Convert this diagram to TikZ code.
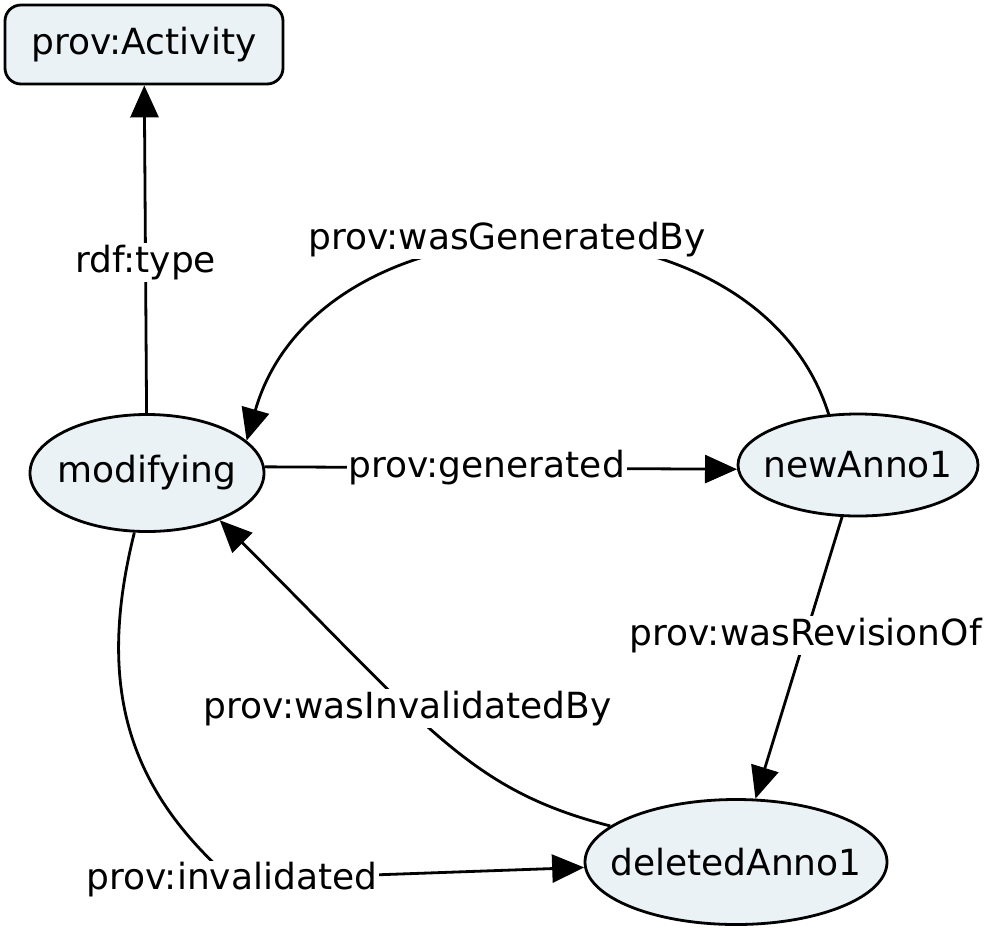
\documentclass[tikz,border=0pt]{standalone}
\usepackage{fontspec}
\setmainfont{DejaVu Sans}
\usepackage{xcolor}
\usepackage{tikz}
\usetikzlibrary{arrows.meta,shapes.geometric}
\definecolor{provfill}{HTML}{EBF2F5}
\tikzset{
  classbox/.style={draw=black, line width=1.4pt, rounded corners=8pt, fill=provfill, minimum width=139pt, minimum height=39.5pt, inner sep=0pt, font=\fontsize{18}{21}\selectfont},
  res/.style={ellipse, draw=black, line width=1.4pt, fill=provfill, inner sep=0pt, font=\fontsize{18}{21}\selectfont},
  lbl/.style={fill=white, inner sep=1pt, font=\fontsize{18}{21}\selectfont},
  line/.style={-{Triangle[length=16pt, width=14pt]}, line width=1.4pt, draw=black}
}

\begin{document}
\begin{tikzpicture}[x=0.5pt, y=-0.5pt]
    \useasboundingbox (0,0) rectangle (991,928);
    \node[classbox] (activity) at (144,44.5) {prov:Activity};
    \node[res, minimum width=117pt, minimum height=58.5pt] (modifying) at (147,473) {\makebox[0pt]{modifying}};
    \node[res, minimum width=120pt, minimum height=51pt] (newanno) at (858,465) {\makebox[0pt]{newAnno1}};
    \node[res, minimum width=151pt, minimum height=62.5pt] (deletedanno) at (736,862) {\makebox[0pt]{deletedAnno1}};
    \coordinate (invpt) at (232,880);

    \draw[line] (modifying) -- node[lbl, pos=0.46] {rdf:type} (activity);
    \draw[line] (modifying.3) -- node[lbl, pos=0.47] {prov:generated} (newanno.182);
    \draw[line] (newanno) -- node[lbl, pos=0.42] {prov:wasRevisionOf} (deletedanno);
    \draw[line] (newanno.120) .. controls (755,180) and (320,185) .. node[lbl, pos=0.54, yshift=3pt] {prov:wasGeneratedBy} (modifying.18);
    \draw[line] (deletedanno.164) .. controls (470,790) and (430,730) .. node[lbl, pos=0.6] {prov:wasInvalidatedBy} (modifying.327);
    \draw[line] (modifying.258) .. controls (95,690) and (130,790) .. (invpt) node[lbl] {prov:invalidated} -- (deletedanno);
  \end{tikzpicture}
\end{document}
